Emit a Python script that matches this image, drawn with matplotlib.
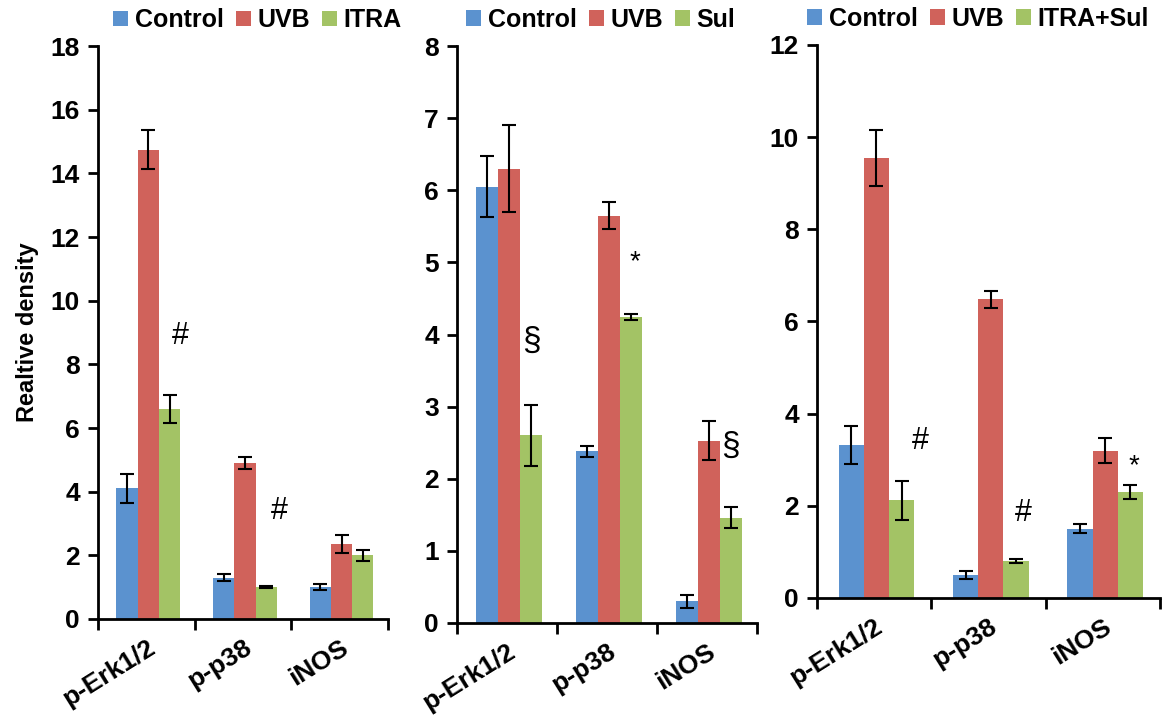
import numpy as np
import matplotlib
matplotlib.use("Agg")
import matplotlib.pyplot as plt

plt.rcParams['font.family'] = ['Liberation Sans', 'DejaVu Sans']

categories = ['p-Erk1/2', 'p-p38', 'iNOS']
colors = ['#5b92cf', '#d0625b', '#a3c365']

# panel 1: Control / UVB / ITRA
p1_names = ['Control', 'UVB', 'ITRA']
p1_vals = [[4.1, 1.3, 1.0], [14.75, 4.9, 2.35], [6.6, 1.0, 2.0]]
p1_errs = [[0.45, 0.1, 0.1], [0.6, 0.2, 0.28], [0.45, 0.03, 0.17]]
p1_marks = [('#', 0.85, 8.9), ('#', 1.88, 3.4)]

# panel 2: Control / UVB / Sul
p2_names = ['Control', 'UVB', 'Sul']
p2_vals = [[6.05, 2.38, 0.3], [6.3, 5.65, 2.53], [2.6, 4.24, 1.46]]
p2_errs = [[0.42, 0.08, 0.09], [0.6, 0.19, 0.27], [0.42, 0.04, 0.15]]
p2_marks = [('§', 0.74, 3.9), ('*', 1.78, 5.0), ('§', 2.73, 2.45)]

# panel 3: Control / UVB / ITRA+Sul
p3_names = ['Control', 'UVB', 'ITRA+Sul']
p3_vals = [[3.32, 0.5, 1.5], [9.55, 6.48, 3.2], [2.12, 0.8, 2.3]]
p3_errs = [[0.42, 0.08, 0.1], [0.6, 0.18, 0.28], [0.42, 0.04, 0.15]]
p3_marks = [('#', 0.9, 3.4), ('#', 1.8, 1.85), ('*', 2.77, 2.85)]

panels = [
    (p1_names, p1_vals, p1_errs, p1_marks, 18, 2, [0.0842, 0.1415, 0.2491, 0.7945], (0.55, 1.045)),
    (p2_names, p2_vals, p2_errs, p2_marks, 8, 1, [0.3926, 0.1360, 0.2577, 0.8000], (0.48, 1.045)),
    (p3_names, p3_vals, p3_errs, p3_marks, 12, 2, [0.7019, 0.1706, 0.2947, 0.7670], (0.47, 1.047)),
]

fig = plt.figure(figsize=(11.64, 7.21), dpi=100)
w = 0.22
x = np.arange(len(categories)) + 0.52

for names, vals, errs, marks, ymax, step, pos, legpos in panels:
    ax = fig.add_axes(pos)
    for i in range(3):
        ax.bar(x + (i - 1) * w, vals[i], w, color=colors[i], label=names[i],
               yerr=errs[i], capsize=5,
               error_kw=dict(elinewidth=1.5, capthick=1.5, ecolor='black'))
    for s, mx, my in marks:
        size = {'*': 20, '#': 22, '§': 24}[s]
        ax.text(mx, my, s, ha='center', va='center', fontsize=size)
    ax.set_xlim(0, 3)
    ax.set_ylim(0, ymax)
    ax.set_yticks(np.arange(0, ymax + step / 2, step))
    ax.set_xticks([0, 1, 2, 3])
    ax.set_xticklabels([])
    ax.set_xticks(np.arange(3) + 0.5, minor=True)
    ax.set_xticklabels(categories, minor=True, rotation=32, ha='right',
                       rotation_mode='anchor', fontsize=19, fontweight='bold')
    ax.tick_params(axis='x', which='major', length=8, width=2, direction='out')
    ax.tick_params(axis='x', which='minor', length=0, pad=12)
    ax.tick_params(axis='y', length=7, width=2, labelsize=19, pad=6)
    for lab in ax.get_yticklabels():
        lab.set_fontweight('bold')
    for sp in ['top', 'right']:
        ax.spines[sp].set_visible(False)
    for sp in ['left', 'bottom']:
        ax.spines[sp].set_linewidth(2)
    ax.legend(loc='center', bbox_to_anchor=legpos, ncol=3, frameon=False,
              handlelength=0.6, handleheight=0.6, handletextpad=0.25,
              columnspacing=0.5, borderaxespad=0,
              prop=dict(size=18, weight='bold'))
    if ymax == 18:
        ax.set_ylabel('Realtive density', fontsize=17, fontweight='bold', labelpad=8)

fig.savefig('out.png', dpi=100)
